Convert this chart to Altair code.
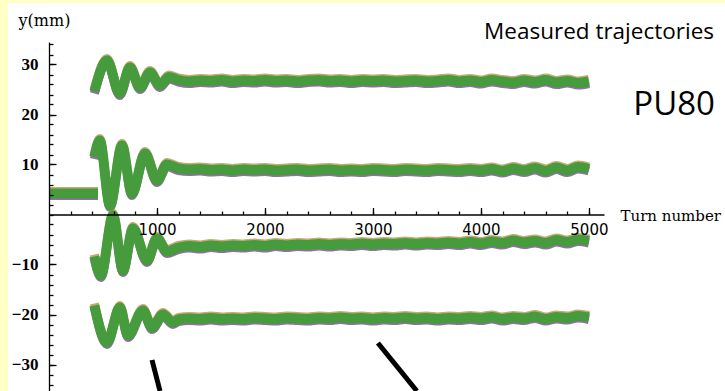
import altair as alt
import pandas as pd

# ---------------- data (turn number, y in mm) ----------------
# pre-kick flat segment
pre_turn = [0, 454]
pre_val = [4.2, 4.2]

# damped transient part of each BPM trace
a_turn = [420, 537, 655, 750, 843, 935, 1028, 1110]
a_val = [24.6, 30.8, 24.2, 29.4, 25.4, 28.4, 25.8, 27.5]
b_turn = [420, 470, 565, 676, 768, 889, 1000, 1093]
b_val = [11.5, 14.8, 1.8, 13.8, 4.2, 12.2, 6.8, 10.0]
c_turn = [420, 480, 593, 685, 778, 907, 1000, 1093]
c_val = [-8.4, -12.2, -0.2, -11.2, -2.8, -9.2, -4.8, -7.4]
d_turn = [420, 537, 657, 731, 870, 954, 1056, 1148]
d_val = [-18.2, -25.6, -18.6, -24.2, -19.2, -22.6, -20.0, -21.6]

# settled part, sampled every 100 turns from 1200 to 5000
settle_turn = list(range(1200, 5001, 100))
a_settle = [26.9, 26.6, 26.8, 26.7, 26.9, 26.6, 26.8, 26.7, 26.9, 26.7, 26.8, 26.6, 26.8,
            26.9, 26.7, 26.8, 26.6, 26.8, 26.7, 26.8, 26.6, 26.7, 26.8, 26.6, 26.7, 26.9,
            26.6, 26.8, 26.5, 26.9, 26.6, 26.4, 26.8, 26.5, 26.9, 26.4, 26.7, 26.3, 26.6]
b_settle = [9.2, 9.0, 9.1, 8.9, 9.0, 8.8, 9.0, 8.9, 9.0, 8.8, 8.9, 9.0, 8.8,
            8.9, 9.0, 8.8, 8.9, 8.8, 9.0, 8.9, 8.8, 9.0, 8.9, 8.8, 9.0, 8.9,
            8.8, 9.0, 8.8, 9.1, 8.7, 9.2, 8.8, 9.3, 8.7, 9.4, 8.8, 9.5, 9.1]
c_settle = [-6.6, -6.3, -6.5, -6.2, -6.4, -6.2, -6.3, -6.1, -6.3, -6.0, -6.2, -6.0, -6.1,
            -5.9, -6.1, -5.9, -6.0, -5.8, -6.0, -5.8, -5.9, -5.7, -5.9, -5.7, -5.8, -5.6,
            -5.8, -5.5, -5.8, -5.4, -5.7, -5.2, -5.6, -5.3, -5.7, -5.1, -5.5, -5.0, -5.3]
d_settle = [-21.0, -20.8, -20.9, -20.7, -20.9, -20.8, -20.9, -20.7, -20.8, -20.9, -20.7, -20.8, -20.9,
            -20.7, -20.8, -20.6, -20.8, -20.7, -20.9, -20.7, -20.8, -20.6, -20.8, -20.7, -20.9, -20.7,
            -20.8, -20.6, -20.8, -20.5, -20.9, -20.6, -20.8, -20.4, -20.9, -20.5, -20.7, -20.3, -20.6]

# annotation strokes (data coordinates)
arrow_x1 = [954, 3046]
arrow_y1 = [-29.1, -25.7]
arrow_x2 = [1028, 3407]
arrow_y2 = [-35.3, -35.3]

x_label_vals = [1000, 2000, 3000, 4000, 5000]
y_label_vals = [-30, -20, -10, 10, 20, 30]

# ---------------- table ----------------
rows = []
for name, t, v in [("pre", pre_turn, pre_val),
                   ("A", a_turn + settle_turn, a_val + a_settle),
                   ("B", b_turn + settle_turn, b_val + b_settle),
                   ("C", c_turn + settle_turn, c_val + c_settle),
                   ("D", d_turn + settle_turn, d_val + d_settle)]:
    for ti, vi in zip(t, v):
        rows.append({"bpm": name, "turn": ti, "y": vi})
df = pd.DataFrame(rows)
arrows = pd.DataFrame({"x1": arrow_x1, "y1": arrow_y1, "x2": arrow_x2, "y2": arrow_y2})

# ---------------- layout ----------------
W, H = 555, 349
XDOM = [0, 5140]
YDOM = [-35.3, 34.5]
Y0 = H * YDOM[1] / (YDOM[1] - YDOM[0])  # pixel row of y = 0
xs = alt.Scale(domain=XDOM, nice=False, zero=False)
ys = alt.Scale(domain=YDOM, nice=False, zero=False)

x_lab = alt.Axis(orient="bottom", offset=-(H - Y0), values=x_label_vals, format="d",
                 ticks=False, domain=True, domainColor="black", domainWidth=1.3,
                 labelFont="DejaVu Sans", labelFontSize=15, labelColor="black", labelPadding=8,
                 labelFlush=False, labelOverlap=False, grid=False,
                 title="Turn number", titleFont="DejaVu Serif", titleFontSize=15,
                 titleFontWeight="normal", titleColor="black", titleX=W + 16, titleY=1,
                 titleAlign="left", titleBaseline="middle", zindex=1)
y_lab = alt.Axis(orient="left", values=y_label_vals, ticks=False, domain=True,
                 domainColor="black", domainWidth=1.3,
                 labelFont="Liberation Serif", labelFontSize=17, labelFontWeight="bold",
                 labelColor="black", labelPadding=11, grid=False,
                 title="y(mm)", titleAngle=0, titleX=-31, titleY=-22, titleAlign="left",
                 titleBaseline="middle", titleFont="DejaVu Serif", titleFontSize=16,
                 titleFontWeight="normal", titleColor="black", zindex=1)
x_maj = alt.Axis(orient="top", offset=-Y0, values=x_label_vals, tickSize=7, tickWidth=1.3,
                 tickColor="black", labels=False, domain=False, grid=False, title="", zindex=1)
y_maj = alt.Axis(orient="right", offset=-W, values=y_label_vals, tickSize=7, tickWidth=1.3,
                 tickColor="black", labels=False, domain=False, grid=False, title="", zindex=1)
x_min = alt.Axis(orient="top", offset=-Y0, values=list(range(200, 5001, 200)), tickSize=3.5,
                 tickWidth=1.3, tickColor="black", labels=False, domain=False, grid=False,
                 title="", zindex=1)
y_min = alt.Axis(orient="right", offset=-W, values=list(range(-34, 35, 2)), tickSize=4,
                 tickWidth=1.3, tickColor="black", labels=False, domain=False, grid=False,
                 title="", zindex=1)

base = alt.Chart(df)


def trace(color, yoff, xaxis, yaxis, width, opacity=1.0):
    return base.mark_line(color=color, strokeWidth=width, yOffset=yoff, interpolate="monotone",
                          strokeCap="butt", strokeJoin="round", opacity=opacity).encode(
        x=alt.X("turn:Q", scale=xs, axis=xaxis),
        y=alt.Y("y:Q", scale=ys, axis=yaxis),
        detail="bpm:N",
    )


bg = alt.Chart(alt.Data(values=[{}])).mark_rect(color="white").encode(
    x=alt.value(-41), x2=alt.value(W + 121), y=alt.value(-39), y2=alt.value(H))

purple = trace("#7b4a8e", 2, x_lab, y_lab, 9, 0.8)
brown = trace("#b4964f", -2, x_maj, y_maj, 9, 0.8)
green = trace("#469b3d", 0, x_min, y_min, 10)

arrow_layer = alt.Chart(arrows).mark_rule(color="black", strokeWidth=5, strokeCap="butt").encode(
    x=alt.X("x1:Q", scale=xs, axis=None), y=alt.Y("y1:Q", scale=ys, axis=None),
    x2="x2:Q", y2="y2:Q")

t1 = alt.Chart(alt.Data(values=[{}])).mark_text(
    text="Measured trajectories", align="right", baseline="alphabetic",
    font="Open Sans", fontSize=22.5, color="black").encode(x=alt.value(665), y=alt.value(-3))
t2 = alt.Chart(alt.Data(values=[{}])).mark_text(
    text="PU80", align="right", baseline="alphabetic",
    font="Open Sans", fontSize=33, color="black").encode(x=alt.value(666), y=alt.value(73))

chart = alt.layer(bg, purple, brown, green, arrow_layer, t1, t2).resolve_axis(
    x="independent", y="independent"
).properties(
    width=W, height=H,
    padding={"left": 49, "top": 42, "right": 121, "bottom": 0},
    autosize=alt.AutoSizeParams(type="none"),
    background="#FFFFC6",
).configure_view(stroke="transparent")

chart.save("out.html", embed_options={"renderer": "svg", "actions": False})
